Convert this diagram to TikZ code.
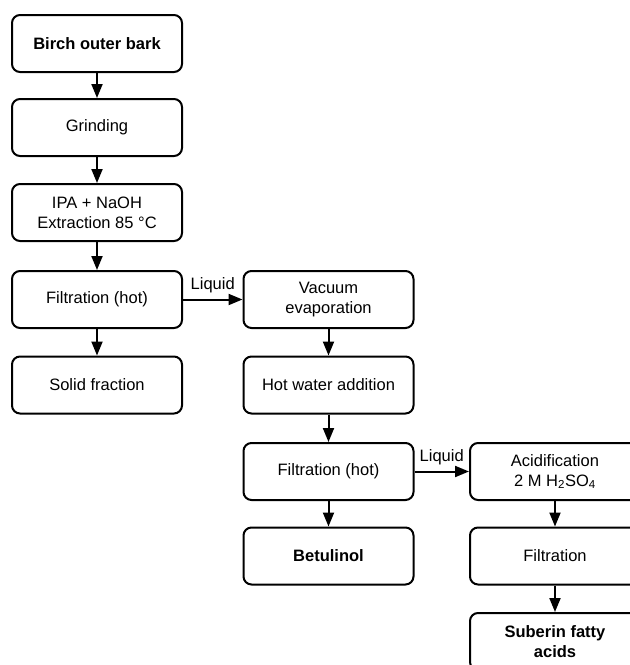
\documentclass[tikz,border=0pt]{standalone}
\usepackage{fontspec}
\setmainfont{Liberation Sans}
\usetikzlibrary{arrows.meta}
\begin{document}
\begin{tikzpicture}[x=1pt,y=-1pt,
  box/.style={draw=black, line width=2pt, rounded corners=8pt, fill=white,
    minimum width=170pt, minimum height=57pt, align=center, inner sep=2pt,
    font=\fontsize{16.5}{20}\selectfont},
  bbox/.style={box, font=\fontsize{16.5}{20}\selectfont\bfseries},
  arr/.style={line width=2pt, -{Triangle[length=14pt,width=11pt]}},
  lbl/.style={font=\fontsize{16.5}{20}\selectfont, inner sep=0pt}]
\clip (0,0) rectangle (630,665);
\useasboundingbox (0,0) rectangle (630,665);
\fill[white] (0,0) rectangle (630,665);
\node[bbox] (bark) at (97,43.5) {Birch outer bark};
\node[box] (grind) at (97,127.5) {Grinding};
\node[box] (ext) at (97,212.5) {IPA + NaOH\\Extraction 85 °C};
\node[box] (filt1) at (97,299.5) {Filtration (hot)};
\node[box] (solid) at (97,385) {Solid fraction};
\node[box] (vac) at (328.5,299.5) {Vacuum\\evaporation};
\node[box] (hot) at (328.5,385) {Hot water addition};
\node[box] (filt2) at (328.5,471.5) {Filtration (hot)};
\node[bbox] (betu) at (328.5,556) {Betulinol};
\node[box] (acid) at (555,471.5) {Acidification\\2 M H\textsubscript{2}SO\textsubscript{4}};
\node[box] (filt3) at (555,556) {Filtration};
\node[bbox] (sub) at (555,641.5) {Suberin fatty\\acids};
\draw[arr] (bark) -- (grind);
\draw[arr] (grind) -- (ext);
\draw[arr] (ext) -- (filt1);
\draw[arr] (filt1) -- (solid);
\draw[arr] (filt1) -- node[lbl, above=6pt] {Liquid} (vac);
\draw[arr] (vac) -- (hot);
\draw[arr] (hot) -- (filt2);
\draw[arr] (filt2) -- (betu);
\draw[arr] (filt2) -- node[lbl, above=6pt] {Liquid} (acid);
\draw[arr] (acid) -- (filt3);
\draw[arr] (filt3) -- (sub);
\end{tikzpicture}
\end{document}
